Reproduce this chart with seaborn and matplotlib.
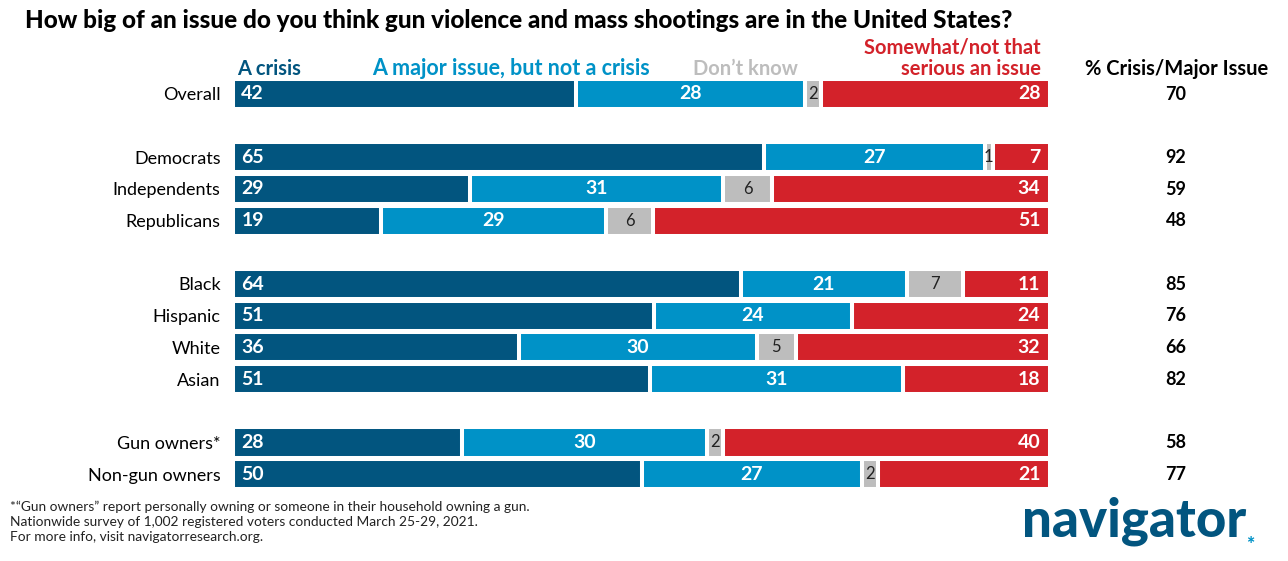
import numpy as np
import pandas as pd
import seaborn as sns
from matplotlib import pyplot as plt

sns.set_style("white")
plt.rcParams['font.family'] = ['Lato', 'DejaVu Sans']

# data
groups = ["Overall", "Democrats", "Independents", "Republicans",
          "Black", "Hispanic", "White", "Asian",
          "Gun owners*", "Non-gun owners"]
crisis = [42, 65, 29, 19, 64, 51, 36, 51, 28, 50]
major = [28, 27, 31, 29, 21, 24, 30, 31, 30, 27]
dont_know = [2, 1, 6, 6, 7, 0, 5, 0, 2, 2]
not_serious = [28, 7, 34, 51, 11, 24, 32, 18, 40, 21]
net = [70, 92, 59, 48, 85, 76, 66, 82, 58, 77]

# row order with blank spacer rows between the groups
order = ["Overall", " ", "Democrats", "Independents", "Republicans", "  ",
         "Black", "Hispanic", "White", "Asian", "   ",
         "Gun owners*", "Non-gun owners"]

series = ["A crisis", "A major issue, but not a crisis", "Don\u2019t know",
          "Somewhat/not that\nserious an issue"]
colors = ["#02557f", "#0092c7", "#bdbdbd", "#d3222a"]

df = pd.DataFrame({"group": groups, "c": crisis, "m": major,
                   "d": dont_know, "n": not_serious, "net": net})
total = df[["c", "m", "d", "n"]].sum(axis=1)
for col in ["c", "m", "d", "n"]:
    df[col + "_p"] = df[col] / total * 100
df["cum1"] = df["c_p"]
df["cum2"] = df["cum1"] + df["m_p"]
df["cum3"] = df["cum2"] + df["d_p"]
df["cum4"] = df["cum3"] + df["n_p"]

fig = plt.figure(figsize=(12.88, 5.61), dpi=100)
W, H = 1288, 561
x0, x1 = 233, 1050
y0, y1 = 78, 490
ax = fig.add_axes([x0 / W, 1 - y1 / H, (x1 - x0) / W, (y1 - y0) / H])

# stacked bars drawn as overlapping cumulative totals, longest first
cums = ["cum4", "cum3", "cum2", "cum1"]
for cum, color in zip(cums, colors[::-1]):
    sns.barplot(data=df, y="group", x=cum, order=order, color=color,
                orient="h", width=0.95, edgecolor="white", linewidth=2.9,
                saturation=1, ax=ax)

ax.set_xlim(0, 100)
ax.set_ylim(len(order) - 0.5, -0.5)
ax.set_xlabel("")
ax.set_ylabel("")
ax.set_xticks([])
ax.tick_params(axis="y", length=0, pad=9, labelsize=13, labelcolor="black")
sns.despine(ax=ax, left=True, bottom=True)

pos = {g: order.index(g) for g in groups}
for _, r in df.iterrows():
    y = pos[r["group"]]
    ax.annotate(f"{r['c']}", (0, y), xytext=(6, 0), textcoords="offset points",
                ha="left", va="center", color="white", fontsize=14, fontweight="bold")
    ax.text((r["cum1"] + r["cum2"]) / 2, y, f"{r['m']}", ha="center", va="center",
            color="white", fontsize=14, fontweight="bold")
    if r["d"] > 0:
        ax.text((r["cum2"] + r["cum3"]) / 2, y, f"{r['d']}", ha="center", va="center",
                color="#222222", fontsize=12)
    ax.annotate(f"{r['n']}", (100, y), xytext=(-7, 0), textcoords="offset points",
                ha="right", va="center", color="white", fontsize=14, fontweight="bold")
    fig.text(1176 / W, 1 - (94 + y * 31.67) / H, f"{r['net']}", ha="center",
             va="center", fontsize=13, fontweight="bold", color="black")

# headers
hy = 1 - 75 / H
fig.text(237 / W, hy, series[0], color=colors[0], fontsize=14.5,
         fontweight="bold", va="baseline")
fig.text(372 / W, hy, series[1], color=colors[1], fontsize=15.5,
         fontweight="bold", va="baseline")
fig.text(798 / W, hy, series[2], color=colors[2], fontsize=14.5,
         fontweight="bold", va="baseline", ha="right")
fig.text(1041 / W, hy, series[3], color=colors[3], fontsize=14.5,
         fontweight="bold", va="baseline", ha="right", linespacing=1.1)
fig.text(1177 / W, hy, "% Crisis/Major Issue", color="black", fontsize=14.5,
         fontweight="bold", va="baseline", ha="center")

fig.text(25 / W, 1 - 28 / H,
         "How big of an issue do you think gun violence and mass shootings are in the United States?",
         fontsize=17.5, fontweight="black", va="baseline", color="black")

notes = ["*\u201cGun owners\u201d report personally owning or someone in their household owning a gun.",
         "Nationwide survey of 1,002 registered voters conducted March 25-29, 2021.",
         "For more info, visit navigatorresearch.org."]
for i, t in enumerate(notes):
    fig.text(10 / W, 1 - (511 + i * 15) / H, t, fontsize=9.9, color="#222222",
             va="baseline")

fig.text(1022 / W, 1 - 536 / H, "navigator", fontsize=38, fontweight="black",
         color="#02557f", va="baseline")
fig.text(1246 / W, 1 - 550 / H, "*", fontsize=14, fontweight="black",
         color="#0092c7", va="baseline")

plt.savefig("out.png", dpi=100)
